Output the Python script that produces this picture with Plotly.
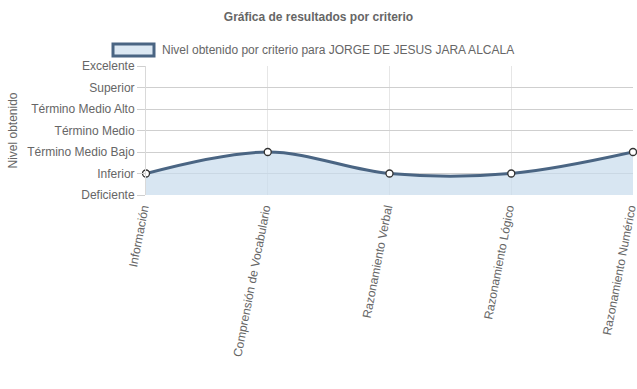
import plotly.graph_objects as go

categories = ["Información", "Comprensión de Vocabulario", "Razonamiento Verbal",
              "Razonamiento Lógico", "Razonamiento Numérico"]
values = [2, 3, 2, 2, 3]
level_vals = [1, 2, 3, 4, 5, 6, 7]
level_labels = ["Deficiente", "Inferior", "Término Medio Bajo", "Término Medio",
                "Término Medio Alto", "Superior", "Excelente"]
series_name = "Nivel obtenido por criterio para JORGE DE JESUS JARA ALCALA"
title = "Gráfica de resultados por criterio"
y_title = "Nivel obtenido"

LINE = "#4a6583"
FILL = "rgba(200,219,236,0.7)"
FONT = "Liberation Sans, Arial, sans-serif"
TXT = "#666666"

fig = go.Figure()
fig.add_trace(go.Scatter(
    x=categories, y=values, mode="lines+markers",
    line=dict(color=LINE, width=3, shape="spline", smoothing=1.0),
    fill="tozeroy", fillcolor=FILL,
    marker=dict(size=7, color="white", line=dict(color="#333333", width=1.3)),
    cliponaxis=False, showlegend=False, name=series_name,
))

fig.update_layout(
    width=637, height=389,
    margin=dict(l=146, r=4, t=66, b=194),
    paper_bgcolor="white", plot_bgcolor="white",
    font=dict(family=FONT, size=12, color=TXT),
    title=dict(text="<b>" + title + "</b>", x=0.5, xanchor="center",
               y=1 - 17 / 389, yanchor="middle", font=dict(size=12, color=TXT)),
    xaxis=dict(type="category", range=[0, len(categories) - 1],
               showgrid=True, gridcolor="#e6e6e6", gridwidth=1,
               zeroline=False, showline=False, ticks="", automargin=False,
               tickangle=-79, ticklabelshift=-3, ticklabelstandoff=3,
               tickfont=dict(size=12, color=TXT)),
    yaxis=dict(range=[1, 7], tickvals=level_vals, ticktext=level_labels,
               showgrid=True, gridcolor="#cfcfcf", gridwidth=1, automargin=False,
               zeroline=False, showline=True, linecolor="#d9d9d9",
               ticks="outside", ticklen=8, tickcolor="#cfcfcf",
               tickfont=dict(size=12, color=TXT)),
    shapes=[dict(type="rect", xref="paper", yref="paper",
                 x0=(113 - 146) / 487, x1=(154 - 146) / 487,
                 y0=1 + (66 - 56) / 129, y1=1 + (66 - 44) / 129,
                 fillcolor="#dce8f3", line=dict(color=LINE, width=3))],
    annotations=[
        dict(text=series_name, xref="paper", yref="paper",
             x=(160 - 146) / 487, y=1 + (66 - 50) / 129, xanchor="left",
             yanchor="middle", showarrow=False, font=dict(size=12, color=TXT)),
        dict(text=y_title, xref="paper", yref="paper", textangle=-90,
             x=(12 - 146) / 487, y=0.5, xanchor="center", yanchor="middle",
             showarrow=False, font=dict(size=12, color=TXT)),
    ],
)

fig.write_html("out.html", config={"displayModeBar": False},
               post_script="document.body.style.margin='0';")
